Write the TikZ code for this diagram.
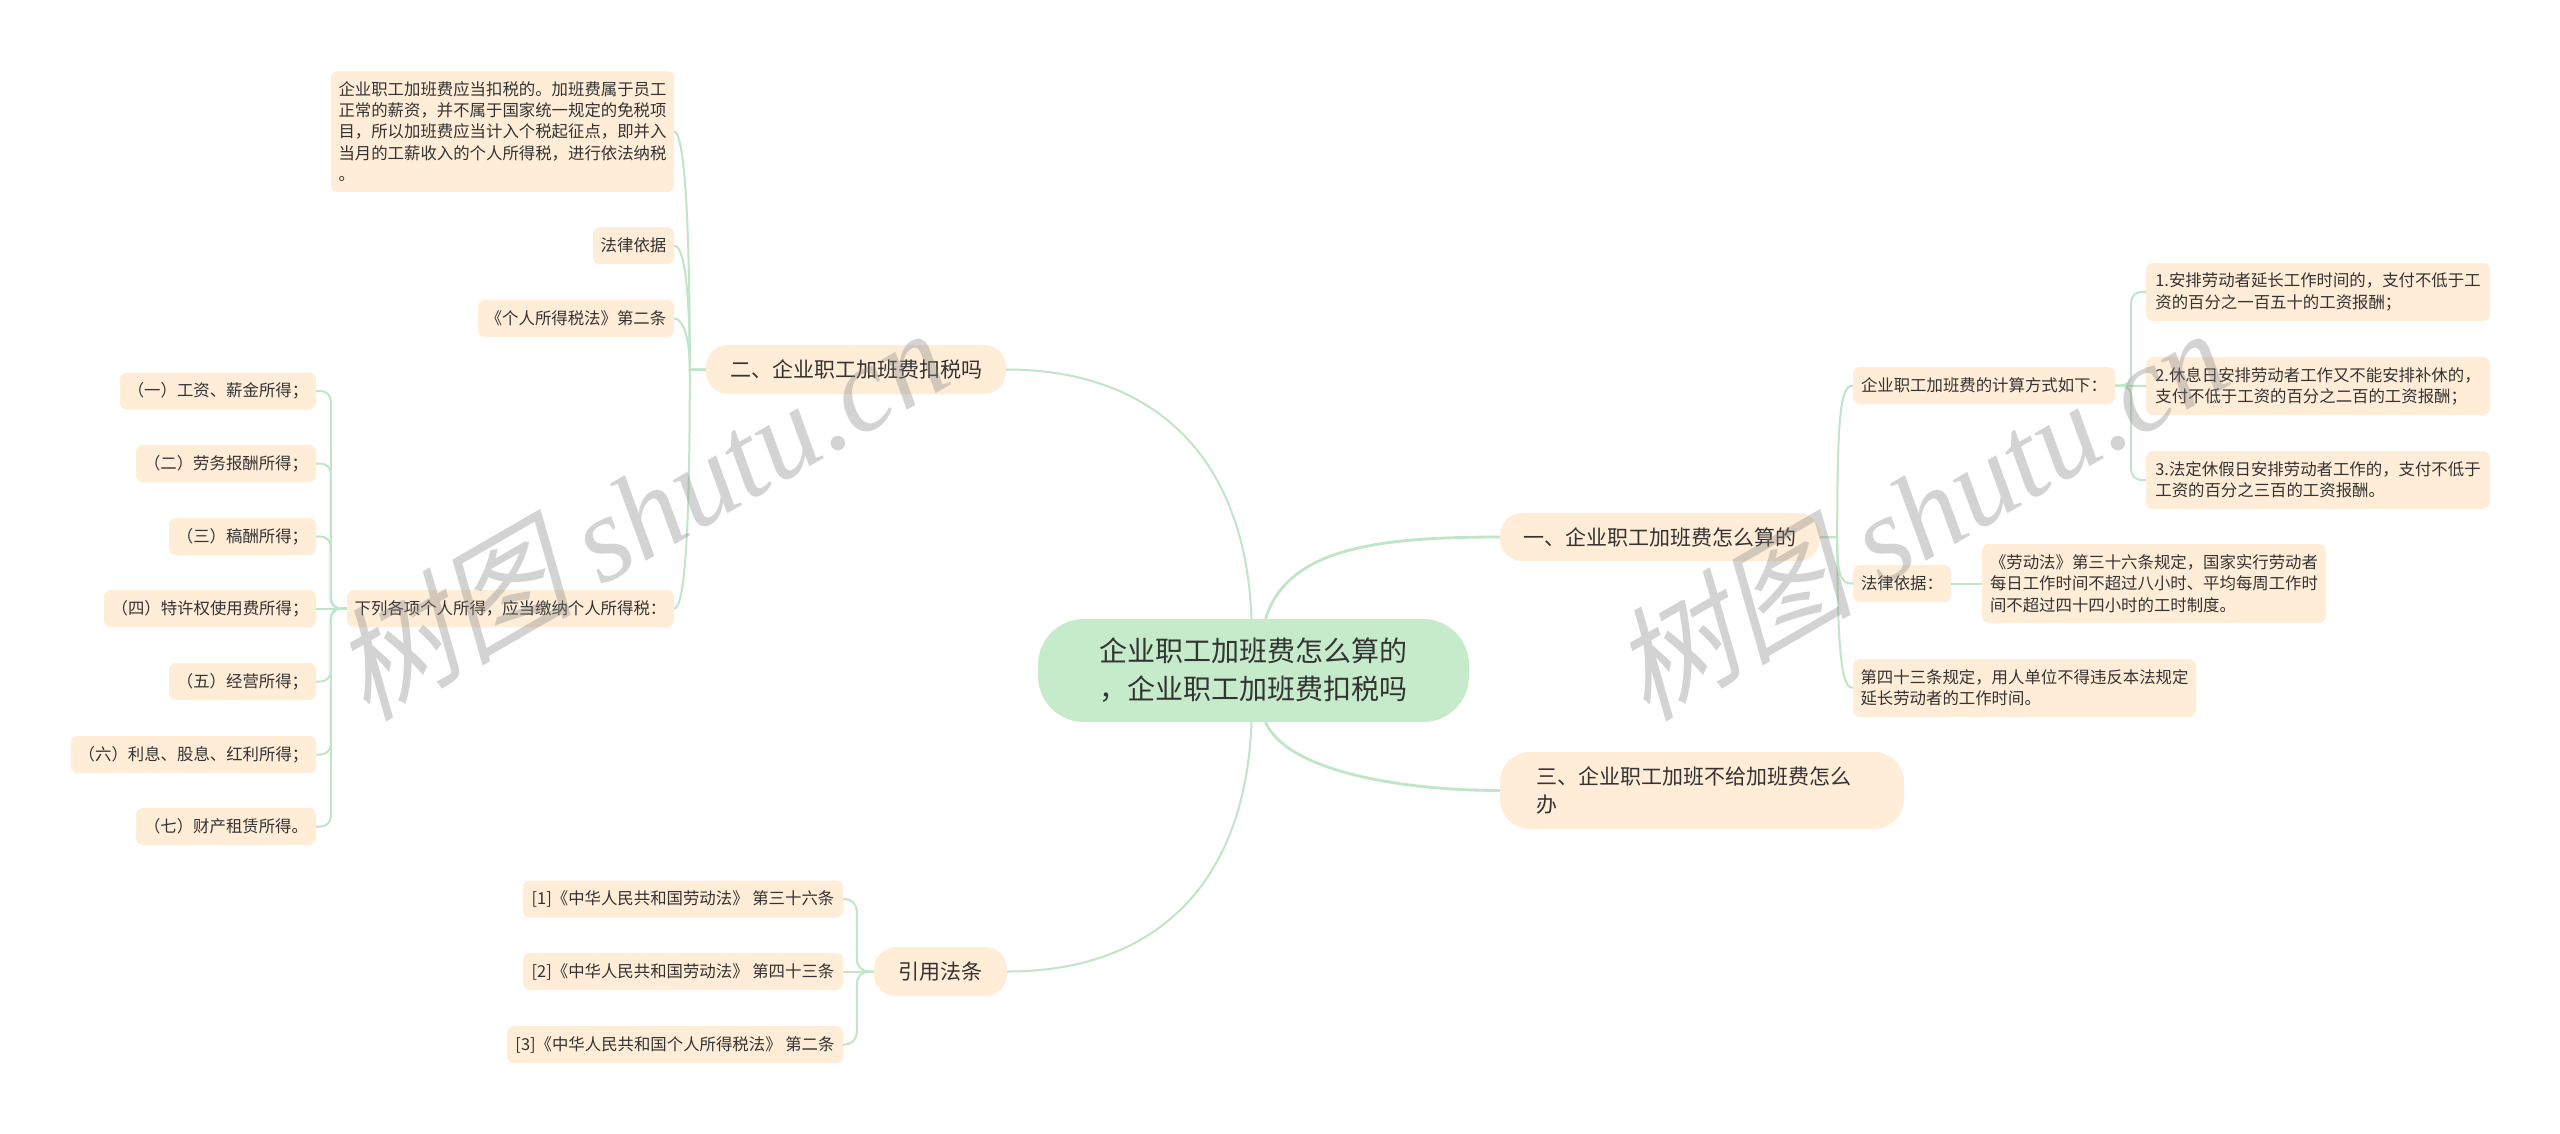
\documentclass[tikz,border=0pt]{standalone}
\usepackage{fontspec}
\setmainfont{Noto Sans CJK SC}
\newfontfamily\wmcjk[FakeSlant=0.25]{Noto Sans CJK SC}
\newfontfamily\wmlat{Liberation Serif}
\definecolor{rootfill}{HTML}{C5EBCB}
\definecolor{boxfill}{HTML}{FFEDD8}
\definecolor{linkcol}{HTML}{BFE6C6}
\definecolor{inkcol}{HTML}{333333}
\tikzset{
  sz/.style 2 args={minimum width=#1pt,minimum height=#2pt},
  base/.style={inner sep=0pt,align=left,text=inkcol},
  rootnode/.style={base,fill=rootfill,rounded corners=46pt,align=center,font=\fontsize{28}{38}\selectfont},
  branch/.style={base,fill=boxfill,rounded corners=22pt,font=\fontsize{21}{28}\selectfont},
  leaf/.style={base,fill=boxfill,rounded corners=7pt,font=\fontsize{16.4}{21.3}\selectfont},
  mainlink/.style={draw=linkcol,line width=2.8pt},
  link/.style={draw=linkcol,line width=2pt},
  wm/.style={text=gray,opacity=0.34,rotate=30,inner sep=0pt,font=\fontsize{122}{130}\selectfont}
}
\begin{document}
\begin{tikzpicture}[x=1pt,y=-1pt]
\useasboundingbox (0,0) rectangle (2560,1133);
\fill[white] (0,0) rectangle (2560,1133);
% nodes
\node[rootnode,sz={431}{103}] (root) at (1253.5,670.5) {企业职工加班费怎么算的\\，企业职工加班费扣税吗};
\node[branch,sz={320}{48}] (yi) at (1660,537) {一、企业职工加班费怎么算的};
\node[branch,sz={404}{77},rounded corners=30pt] (san) at (1702,790.5) {三、企业职工加班不给加班费怎么\hspace{16pt}\mbox{}\\办};
\node[branch,sz={300}{49}] (er) at (856,369.5) {二、企业职工加班费扣税吗};
\node[branch,sz={133}{49}] (yin) at (940.5,971.5) {引用法条};
% right leaves
\node[leaf,sz={262}{37}] (n1) at (1984,385.5) {企业职工加班费的计算方式如下：};
\node[leaf,sz={344}{58}] (a1) at (2318,292) {1.安排劳动者延长工作时间的，支付不低于工\\资的百分之一百五十的工资报酬；};
\node[leaf,sz={344}{58}] (a2) at (2318,386) {2.休息日安排劳动者工作又不能安排补休的，\\支付不低于工资的百分之二百的工资报酬；};
\node[leaf,sz={344}{58}] (a3) at (2318,480) {3.法定休假日安排劳动者工作的，支付不低于\\工资的百分之三百的工资报酬。};
\node[leaf,sz={98}{37}] (law) at (1902,583.5) {法律依据：};
\node[leaf,sz={344}{79}] (ldo) at (2154,583.5) {《劳动法》第三十六条规定，国家实行劳动者\\每日工作时间不超过八小时、平均每周工作时\\间不超过四十四小时的工时制度。};
\node[leaf,sz={343}{58}] (n43) at (2024.5,688) {第四十三条规定，用人单位不得违反本法规定\\延长劳动者的工作时间。};
% upper left leaves
\node[leaf,sz={343}{121}] (b1) at (502.5,131.5) {企业职工加班费应当扣税的。加班费属于员工\\正常的薪资，并不属于国家统一规定的免税项\\目，所以加班费应当计入个税起征点，即并入\\当月的工薪收入的个人所得税，进行依法纳税\\。};
\node[leaf,sz={81}{37}] (b2) at (633.5,245.5) {法律依据};
\node[leaf,sz={196}{37}] (b3) at (576,318.5) {《个人所得税法》第二条};
\node[leaf,sz={327}{37}] (xl) at (510.5,608.5) {下列各项个人所得，应当缴纳个人所得税：};
\node[leaf,sz={196}{37}] (c1) at (218,391) {（一）工资、薪金所得；};
\node[leaf,sz={180}{37}] (c2) at (226,463.5) {（二）劳务报酬所得；};
\node[leaf,sz={147}{37}] (c3) at (242.5,536.5) {（三）稿酬所得；};
\node[leaf,sz={212}{37}] (c4) at (210,608.5) {（四）特许权使用费所得；};
\node[leaf,sz={147}{37}] (c5) at (242.5,681.5) {（五）经营所得；};
\node[leaf,sz={245.5}{37}] (c6) at (193.5,754.5) {（六）利息、股息、红利所得；};
\node[leaf,sz={180}{37}] (c7) at (226,826.5) {（七）财产租赁所得。};
% citations
\node[leaf,sz={320}{37}] (d1) at (683,899) {[1]《中华人民共和国劳动法》 第三十六条};
\node[leaf,sz={320}{37}] (d2) at (683,971.5) {[2]《中华人民共和国劳动法》 第四十三条};
\node[leaf,sz={336}{37}] (d3) at (675,1044.5) {[3]《中华人民共和国个人所得税法》 第二条};
% main links
\draw[mainlink] ([xshift=12pt]root.north) .. controls +(22,-70) and +(-125,0) .. (yi.west);
\draw[mainlink] ([xshift=12pt]root.south) .. controls +(22,50) and +(-95,0) .. (san.west);
\draw[link] ([xshift=-2pt]root.north) .. controls +(-6,-165) and +(145,0) .. (er.east);
\draw[link] ([xshift=-2pt]root.south) .. controls +(-6,165) and +(145,0) .. (yin.east);
% right trunk
\draw[link] (yi.east) -- ++(17,0) .. controls +(0,-125) and +(-12,0) .. (n1.west);
\draw[link] (yi.east) -- ++(17,0) .. controls +(0,40) and +(-12,0) .. (law.west);
\draw[link] (yi.east) -- ++(17,0) .. controls +(0,125) and +(-10,0) .. (n43.west);
\draw[link] (law.east) -- (ldo.west);
\draw[link] (n1.east) -- (a2.west);
\draw[link,rounded corners=10pt] (n1.east) -- ++(16,0) |- (a1.west);
\draw[link,rounded corners=10pt] (n1.east) -- ++(16,0) |- (a3.west);
% left trunk
\draw[link] (er.west) -- ++(-16,0) .. controls +(0,-180) and +(8,0) .. (b1.east);
\draw[link] (er.west) -- ++(-16,0) .. controls +(0,-95) and +(8,0) .. (b2.east);
\draw[link] (er.west) -- ++(-16,0) .. controls +(0,-35) and +(8,0) .. (b3.east);
\draw[link] (er.west) -- ++(-16,0) .. controls +(0,170) and +(10,0) .. (xl.east);
\draw[link] (xl.west) -- (c4.east);
\foreach \c in {c1,c2,c3,c5,c6,c7}{
  \draw[link,rounded corners=10pt] (xl.west) -- ++(-16,0) |- (\c.east);
}
% citation trunk
\draw[link] (yin.west) -- (d2.east);
\draw[link,rounded corners=12pt] (yin.west) -- ++(-17,0) |- (d1.east);
\draw[link,rounded corners=12pt] (yin.west) -- ++(-17,0) |- (d3.east);
% watermarks
\node[wm] (wm1) at (638,512) {{\wmcjk 树图} {\wmlat\itshape shutu.cn}};
\node[wm] (wm2) at (1918,512) {{\wmcjk 树图} {\wmlat\itshape shutu.cn}};
\end{tikzpicture}
\end{document}
